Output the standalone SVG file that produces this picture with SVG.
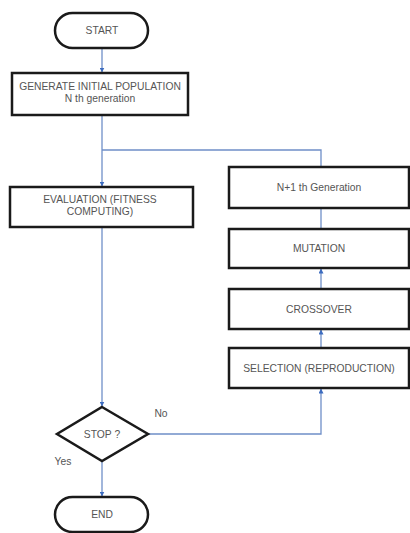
<svg xmlns="http://www.w3.org/2000/svg" width="410" height="533" viewBox="0 0 410 533">
<defs>
<marker id="arr" viewBox="0 0 10 10" refX="9" refY="5" markerWidth="5" markerHeight="5" orient="auto-start-reverse" markerUnits="userSpaceOnUse">
<path d="M0,0 L10,5 L0,10 z" fill="#3d6cc0"/>
</marker>
<style>
.box{fill:#fff;stroke:#1a1a1a;stroke-width:2.5}
.t{font-family:"Liberation Sans",Arial,sans-serif;font-size:10.3px;fill:#555;text-anchor:middle}
.c{fill:none;stroke:#6f8fc8;stroke-width:1.3}
</style>
</defs>
<rect width="410" height="533" fill="#fff"/>
<g id="connectors">
<path class="c" d="M102,48 V72" marker-end="url(#arr)"/>
<path class="c" d="M102,115 V186" marker-end="url(#arr)"/>
<path class="c" d="M102,150 H321 V167"/>
<path class="c" d="M102,227 V406" marker-end="url(#arr)"/>
<path class="c" d="M102,461 V496" marker-end="url(#arr)"/>
<path class="c" d="M148,434 H321 V389" marker-end="url(#arr)"/>
<path class="c" d="M321,348 V330" marker-end="url(#arr)"/>
<path class="c" d="M321,289 V269" marker-end="url(#arr)"/>
<path class="c" d="M321,229 V208"/>
</g>
<g id="start">
<rect class="box" x="55" y="13" width="93" height="35" rx="17.5"/>
<text class="t" x="102" y="34">START</text>
</g>
<g id="generate">
<rect class="box" x="12" y="73" width="176" height="42"/>
<text class="t" x="100" y="90">GENERATE INITIAL POPULATION</text>
<text class="t" x="100" y="102">N th generation</text>
</g>
<g id="evaluation">
<rect class="box" x="10" y="187" width="183" height="40"/>
<text class="t" x="100" y="203">EVALUATION (FITNESS</text>
<text class="t" x="100" y="215">COMPUTING)</text>
</g>
<g id="next-gen">
<rect class="box" x="229" y="167" width="180" height="41"/>
<text class="t" x="319" y="191">N+1 th Generation</text>
</g>
<g id="mutation">
<rect class="box" x="229" y="229" width="180" height="39"/>
<text class="t" x="319" y="252">MUTATION</text>
</g>
<g id="crossover">
<rect class="box" x="229" y="289" width="180" height="40"/>
<text class="t" x="319" y="313">CROSSOVER</text>
</g>
<g id="selection">
<rect class="box" x="229" y="348" width="180" height="40"/>
<text class="t" x="319" y="372">SELECTION (REPRODUCTION)</text>
</g>
<g id="stop">
<polygon class="box" points="102,407 148,434 102,461 57,434"/>
<text class="t" x="102" y="438">STOP ?</text>
</g>
<text class="t" x="161" y="417">No</text>
<text class="t" x="63" y="465">Yes</text>
<g id="end">
<rect class="box" x="55" y="497" width="93" height="35" rx="17.5"/>
<text class="t" x="102" y="518">END</text>
</g>
</svg>
